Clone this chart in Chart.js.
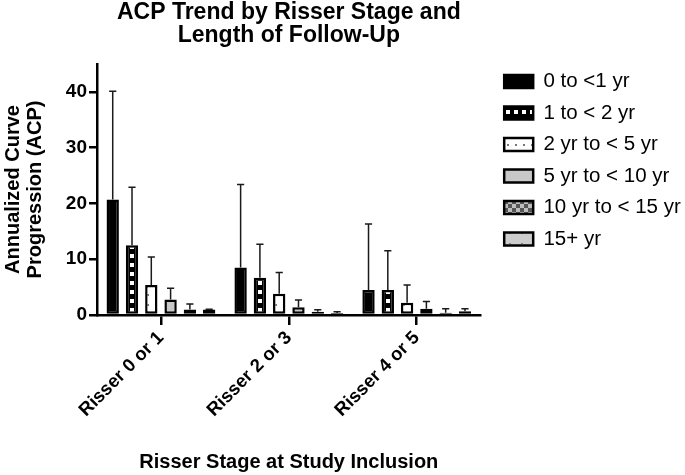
<!DOCTYPE html>
<html>
<head>
<meta charset="utf-8">
<script src="https://cdn.jsdelivr.net/npm/chart.js@4.4.1/dist/chart.umd.min.js"></script>
<style>
  html, body { margin: 0; padding: 0; background: #ffffff; }
  #wrap { width: 685px; height: 475px; }
</style>
</head>
<body>
<div id="wrap"><canvas id="c" width="685" height="475"></canvas></div>
<script>
// ---------- data ----------
const categories = ['Risser 0 or 1', 'Risser 2 or 3', 'Risser 4 or 5'];
const seriesLabels = ['0 to <1 yr', '1 to < 2 yr', '2 yr to < 5 yr', '5 yr to < 10 yr', '10 yr to < 15 yr', '15+ yr'];

const acpUnder1 = [20.7, 8.5, 4.5];
const acp1to2   = [12.5, 6.7, 4.5];
const acp2to5   = [5.4, 3.8, 2.2];
const acp5to10  = [2.8, 1.4, 1.1];
const acp10to15 = [1.0, 0.6, 0.4];
const acp15plus = [1.0, 0.35, 0.65];

// upper end of each error bar (mean + SD)
const errUnder1 = [40.1, 23.4, 16.3];
const err1to2   = [22.9, 12.7, 11.5];
const err2to5   = [10.4, 7.6, 5.4];
const err5to10  = [4.8, 2.7, 2.4];
const err10to15 = [1.96, 0.95, 1.1];
const err15plus = [1.05, 0.6, 1.1];

const yTickValues = [0, 10, 20, 30, 40];
const titleLines = ['ACP Trend by Risser Stage and', 'Length of Follow-Up'];
const yTitleLines = ['Annualized Curve', 'Progression (ACP)'];
const xTitle = 'Risser Stage at Study Inclusion';

// ---------- patterns ----------
function makePattern(w, h, draw) {
  const c = document.createElement('canvas');
  c.width = w; c.height = h;
  const g = c.getContext('2d');
  draw(g, w, h);
  return g.createPattern(c, 'repeat');
}
const patSolidBlack = '#000000';
const patBlackWhiteSq = makePattern(8, 9, (g, w, h) => {
  g.fillStyle = '#000'; g.fillRect(0, 0, w, h);
  g.fillStyle = '#fff'; g.fillRect(2, 2, 4, 4);
});
const patDots = makePattern(8, 10, (g, w, h) => {
  g.fillStyle = '#fff'; g.fillRect(0, 0, w, h);
  g.fillStyle = '#777'; g.fillRect(3, 4, 2, 2);
});
const patLightGray = '#c8c8c8';
const patGrayChecker = makePattern(8, 8, (g, w, h) => {
  g.fillStyle = '#bdbdbd'; g.fillRect(0, 0, w, h);
  g.fillStyle = '#555'; g.fillRect(0, 0, 4, 4); g.fillRect(4, 4, 4, 4);
});
const patGrayMarks = makePattern(12, 10, (g, w, h) => {
  g.fillStyle = '#cdcdcd'; g.fillRect(0, 0, w, h);
  g.fillStyle = '#888'; g.fillRect(5, 3, 2, 1);
});

const seriesValues = [acpUnder1, acp1to2, acp2to5, acp5to10, acp10to15, acp15plus];
const seriesErr = [errUnder1, err1to2, err2to5, err5to10, err10to15, err15plus];
const seriesFill = [patSolidBlack, patBlackWhiteSq, patDots, patLightGray, patGrayChecker, patGrayMarks];

const FONT = "'Liberation Sans', Arial, Helvetica, sans-serif";

const datasets = seriesLabels.map((lab, i) => ({
  label: lab,
  data: seriesValues[i],
  errUpper: seriesErr[i],
  backgroundColor: seriesFill[i],
  borderColor: '#000000',
  borderWidth: 2.5,
  borderSkipped: false,
  categoryPercentage: 0.905,
  barPercentage: 0.64
}));

// ---------- plugins ----------
const errorBars = {
  id: 'errorBars',
  afterDatasetsDraw(chart) {
    const ctx = chart.ctx;
    const y = chart.scales.y;
    ctx.save();
    ctx.strokeStyle = '#1a1a1a';
    ctx.lineWidth = 1.5;
    chart.data.datasets.forEach((ds, i) => {
      const meta = chart.getDatasetMeta(i);
      meta.data.forEach((bar, j) => {
        const top = y.getPixelForValue(ds.errUpper[j]);
        const x = bar.x;
        const cap = bar.width * 0.29;
        ctx.beginPath();
        ctx.moveTo(x, bar.y);
        ctx.lineTo(x, top);
        ctx.moveTo(x - cap, top);
        ctx.lineTo(x + cap, top);
        ctx.stroke();
      });
    });
    ctx.restore();
  }
};

const legendNudge = {
  id: 'legendNudge',
  afterLayout(chart) {
    if (chart.legend) {
      chart.legend.top -= 3.75;
      chart.legend.bottom -= 3.75;
    }
  }
};

// ---------- chart ----------
new Chart(document.getElementById('c'), {
  type: 'bar',
  data: { labels: categories, datasets },
  plugins: [errorBars, legendNudge],
  options: {
    responsive: false,
    animation: false,
    devicePixelRatio: 1,
    layout: { padding: { left: 0, right: -5.75, top: 0, bottom: 0 } },
    plugins: {
      title: {
        display: true,
        fullSize: false,
        text: titleLines,
        color: '#000',
        font: { family: FONT, size: 23, weight: 'bold', lineHeight: 1.0 },
        padding: { top: 1, bottom: 17 }
      },
      legend: {
        display: true,
        fullSize: false,
        position: 'right',
        align: 'start',
        maxWidth: 230,
        labels: {
          color: '#000',
          font: { family: FONT, size: 20.5, weight: 'normal' },
          boxWidth: 29,
          boxHeight: 13,
          padding: 11
        }
      },
      tooltip: { enabled: false }
    },
    scales: {
      x: {
        type: 'category',
        offset: true,
        grid: { display: true, drawOnChartArea: false, drawTicks: true, offset: false, tickLength: 10, tickColor: '#000', tickWidth: 2.5, color: '#000', lineWidth: 2.5 },
        border: { display: true, color: '#000', width: 2.5 },
        ticks: {
          color: '#000',
          font: { family: FONT, size: 18.5, weight: 'bold' },
          minRotation: 45,
          maxRotation: 45,
          padding: 2,
          autoSkip: false
        },
        title: {
          display: true,
          text: xTitle,
          color: '#000',
          font: { family: FONT, size: 20, weight: 'bold' },
          padding: { top: 0, bottom: 1 }
        },
        afterFit(scale) { scale.height = 160; }
      },
      y: {
        type: 'linear',
        position: 'left',
        min: 0,
        max: 45,
        grid: { display: true, drawOnChartArea: false, drawTicks: true, tickLength: 8, tickColor: '#000', tickWidth: 2.5, color: '#000', lineWidth: 2.5 },
        border: { display: true, color: '#000', width: 2.5 },
        ticks: {
          stepSize: 10,
          color: '#000',
          font: { family: FONT, size: 19, weight: 'bold' },
          padding: 2
        },
        afterBuildTicks(scale) {
          scale.ticks = yTickValues.map(v => ({ value: v }));
        },
        title: {
          display: true,
          text: yTitleLines,
          color: '#000',
          font: { family: FONT, size: 20, weight: 'bold', lineHeight: 1.1 },
          padding: { top: 2, bottom: 0 }
        },
        afterFit(scale) { scale.width = 97; }
      },
      gap: {
        type: 'linear',
        position: 'right',
        display: true,
        grid: { display: false },
        border: { display: false },
        ticks: { display: false },
        afterFit(scale) { scale.width = 12.5; }
      }
    }
  }
});
</script>
</body>
</html>
